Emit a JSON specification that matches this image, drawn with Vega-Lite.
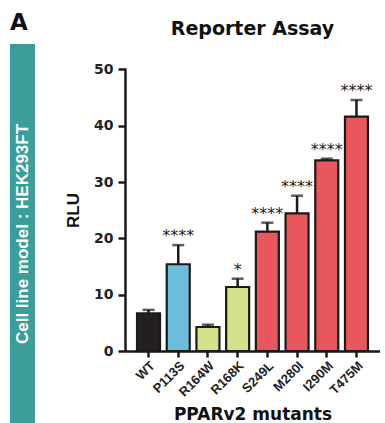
{
  "$schema": "https://vega.github.io/schema/vega-lite/v6.json",
  "padding": {"left": 10, "top": 12, "right": 0, "bottom": 0},
  "spacing": 29,
  "bounds": "full",
  "config": {
    "view": {"stroke": null},
    "font": "Liberation Sans",
    "axis": {
      "grid": false,
      "domainColor": "#1a1a1a",
      "domainWidth": 2.5,
      "tickColor": "#1a1a1a",
      "tickWidth": 2.5,
      "labelColor": "#222222",
      "titleColor": "#111111"
    }
  },
  "hconcat": [
    {
      "width": 25,
      "height": 380,
      "view": {"fill": "#3a9e9b", "stroke": null},
      "title": {
        "text": "A",
        "anchor": "start",
        "frame": "group",
        "fontSize": 23,
        "fontWeight": "bold",
        "font": "DejaVu Sans",
        "baseline": "alphabetic",
        "offset": -9,
        "color": "#111111"
      },
      "data": {"values": [{"label": "Cell line model : HEK293FT"}]},
      "mark": {
        "type": "text",
        "angle": 270,
        "fill": "#ffffff",
        "fontSize": 17,
        "fontWeight": "bold",
        "font": "Liberation Sans",
        "baseline": "middle",
        "align": "center"
      },
      "encoding": {"text": {"field": "label", "type": "nominal"}}
    },
    {
      "width": 255,
      "height": 307,
      "title": {
        "text": "Reporter Assay",
        "frame": "group",
        "anchor": "middle",
        "fontSize": 19,
        "font": "DejaVu Sans",
        "fontWeight": "bold",
        "baseline": "alphabetic",
        "offset": -10,
        "color": "#111111"
      },
      "data": {
        "values": [
          {"mutant": "WT", "group": "wt", "value": 6.7, "err": 7.3, "sig": ""},
          {"mutant": "P113S", "group": "blue", "value": 15.4, "err": 18.8, "sig": "****"},
          {"mutant": "R164W", "group": "green", "value": 4.26, "err": 4.67, "sig": ""},
          {"mutant": "R168K", "group": "green", "value": 11.36, "err": 12.84, "sig": "*"},
          {"mutant": "S249L", "group": "red", "value": 21.18, "err": 22.78, "sig": "****"},
          {"mutant": "M280I", "group": "red", "value": 24.44, "err": 27.57, "sig": "****"},
          {"mutant": "I290M", "group": "red", "value": 33.85, "err": 34.14, "sig": "****"},
          {"mutant": "T475M", "group": "red", "value": 41.6, "err": 44.56, "sig": "****"}
        ]
      },
      "encoding": {
        "x": {
          "field": "mutant",
          "type": "nominal",
          "sort": null,
          "scale": {"paddingInner": 0.226, "paddingOuter": 0.405},
          "axis": {
            "title": "PPARv2 mutants",
            "titleFont": "DejaVu Sans",
            "titleFontSize": 17,
            "titleFontWeight": "bold",
            "titlePadding": 8,
            "labelAngle": -45,
            "labelFont": "Liberation Sans",
            "labelFontWeight": "bold",
            "labelFontSize": 13,
            "labelPadding": 2,
            "tickSize": 6
          }
        }
      },
      "layer": [
        {
          "mark": {"type": "bar", "stroke": "#1a1a1a", "strokeWidth": 2.2},
          "encoding": {
            "y": {
              "field": "value",
              "type": "quantitative",
              "scale": {"domain": [0, 54.5], "nice": false},
              "axis": {
                "title": "RLU",
                "titleFont": "Liberation Sans",
                "titleFontSize": 17,
                "titleFontWeight": "bold",
                "titlePadding": 11,
                "titleY": 166,
                "values": [0, 10, 20, 30, 40, 50],
                "labelFont": "DejaVu Sans",
                "labelFontWeight": "bold",
                "labelFontSize": 14,
                "labelPadding": 5,
                "tickSize": 7,
                "domainDash": [283, 400]
              }
            },
            "color": {
              "field": "group",
              "type": "nominal",
              "scale": {
                "domain": ["wt", "blue", "green", "red"],
                "range": ["#231f20", "#6ebedb", "#d5e28b", "#e8575b"]
              },
              "legend": null
            }
          }
        },
        {
          "mark": {"type": "rule", "color": "#1a1a1a", "strokeWidth": 2.5},
          "encoding": {
            "y": {"field": "value", "type": "quantitative"},
            "y2": {"field": "err"}
          }
        },
        {
          "mark": {"type": "tick", "color": "#1a1a1a", "thickness": 2.5, "size": 12},
          "encoding": {
            "y": {"field": "err", "type": "quantitative"}
          }
        },
        {
          "mark": {
            "type": "text",
            "font": "DejaVu Sans",
            "fontSize": 16,
            "fill": "#222222",
            "baseline": "alphabetic",
            "align": "center",
            "dy": -4
          },
          "encoding": {
            "y": {"field": "err", "type": "quantitative"},
            "text": {"field": "sig", "type": "nominal"}
          }
        }
      ]
    }
  ]
}
